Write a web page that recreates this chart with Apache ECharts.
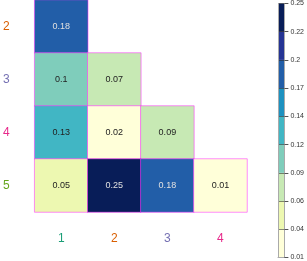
<!DOCTYPE html>
<html><head><meta charset="utf-8">
<script src="https://cdn.jsdelivr.net/npm/echarts@6/dist/echarts.min.js"></script>
<style>html,body{margin:0;padding:0;background:#fff}#c{width:307px;height:261px}</style>
</head><body><div id="c"></div>
<script>
const xCats = ['1', '2', '3', '4'];
const yCats = ['5', '4', '3', '2'];
const xLabelColors = ['#1b9e77', '#d95f02', '#7570b3', '#e7298a'];
const yLabelColors = ['#66a61e', '#e7298a', '#7570b3', '#d95f02'];
// [column, row, value]
const cells = [
  ['1', '2', 0.18],
  ['1', '3', 0.10], ['2', '3', 0.07],
  ['1', '4', 0.13], ['2', '4', 0.02], ['3', '4', 0.09],
  ['1', '5', 0.05], ['2', '5', 0.25], ['3', '5', 0.18], ['4', '5', 0.01]
];
const binEdges = [0.01, 0.0367, 0.0633, 0.09, 0.1167, 0.1433, 0.17, 0.1967, 0.2233, 0.25];
const binColors = ['#ffffd9', '#edf8b1', '#c7e9b4', '#7fcdbb', '#41b6c4', '#1d91c0', '#225ea8', '#253494', '#081d58'];
const tickLabels = ['0.01', '0.04', '0.06', '0.09', '0.12', '0.14', '0.17', '0.2', '0.22', '0.25'];

const FONT = 'Liberation Sans, Arial, sans-serif';
const pieces = binColors.map((c, i) => i === 0
  ? { gte: binEdges[0], lte: binEdges[1], color: c }
  : { gt: binEdges[i], lte: binEdges[i + 1], color: c });

const heatData = cells.map(d => ({
  value: [d[0], d[1], d[2]],
  label: { color: d[2] >= 0.15 ? '#e0e0e0' : '#222' }
}));

const cbSeries = [{
  type: 'bar', xAxisIndex: 1, yAxisIndex: 1, stack: 'cb', data: [binEdges[0]], z: -1,
  itemStyle: { color: 'transparent' }, barWidth: '100%', silent: true
}].concat(binColors.map((c, i) => ({
  type: 'bar', xAxisIndex: 1, yAxisIndex: 1, stack: 'cb', z: -1,
  data: [binEdges[i + 1] - binEdges[i]],
  itemStyle: { color: c }, barWidth: '100%', silent: true
})));

const chart = echarts.init(document.getElementById('c'), null, { renderer: 'canvas' });
chart.setOption({
  animation: false,
  grid: [
    { left: 31, top: 0, width: 216, height: 212 },
    { left: 278, top: 3, width: 7, height: 255 }
  ],
  xAxis: [
    { type: 'category', data: xCats, gridIndex: 0, axisLine: { show: false }, axisTick: { show: false },
      splitLine: { show: false },
      axisLabel: { margin: 21, fontSize: 12, fontFamily: FONT, color: (v, i) => xLabelColors[i] } },
    { type: 'category', data: ['cb'], gridIndex: 1, position: 'bottom',
      axisLine: { show: true, onZero: false, lineStyle: { color: '#aaa', width: 1 } },
      axisTick: { show: false }, axisLabel: { show: false }, splitLine: { show: false } }
  ],
  yAxis: [
    { type: 'category', data: yCats, gridIndex: 0, axisLine: { show: false }, axisTick: { show: false },
      splitLine: { show: false },
      axisLabel: { margin: 25, fontSize: 12, fontFamily: FONT, color: (v, i) => yLabelColors[i] } },
    { type: 'value', gridIndex: 1, position: 'right', min: binEdges[0], max: binEdges[binEdges.length - 1],
      interval: (binEdges[binEdges.length - 1] - binEdges[0]) / 9,
      splitLine: { show: true, lineStyle: { color: 'rgba(40,40,40,0.55)', width: 1 } },
      axisLine: { show: true, lineStyle: { color: '#aaa', width: 1 } },
      axisTick: { show: true, length: 4, lineStyle: { color: '#555' } },
      axisLabel: { margin: 6, fontSize: 7, fontFamily: FONT, color: '#333',
        formatter: (v) => {
          let best = 0, bd = 1e9;
          binEdges.forEach((e, i) => { const d = Math.abs(e - v); if (d < bd) { bd = d; best = i; } });
          return tickLabels[best];
        } } },
    { type: 'value', gridIndex: 1, position: 'left', min: binEdges[0], max: binEdges[binEdges.length - 1],
      axisLine: { show: true, onZero: false, lineStyle: { color: '#aaa', width: 1 } },
      axisTick: { show: false }, axisLabel: { show: false }, splitLine: { show: false } }
  ],
  visualMap: { type: 'piecewise', show: false, seriesIndex: 0, dimension: 2, pieces: pieces },
  series: [{
    type: 'heatmap', xAxisIndex: 0, yAxisIndex: 0, data: heatData,
    itemStyle: { borderColor: 'rgba(255,50,255,0.55)', borderWidth: 1 },
    label: { show: true, fontSize: 9, fontFamily: FONT, formatter: (p) => String(p.value[2]) },
    emphasis: { disabled: true }
  }].concat(cbSeries)
});
</script></body></html>
